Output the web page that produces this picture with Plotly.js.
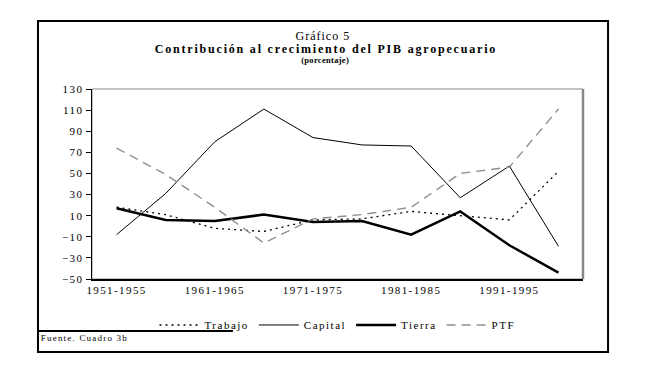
<!DOCTYPE html>
<html>
<head>
<meta charset="utf-8">
<script src="https://cdn.plot.ly/plotly-3.0.1.min.js"></script>
<style>
html,body{margin:0;padding:0;background:#fff;}
#chart{width:645px;height:371px;}
.xtick text, .ytick text { letter-spacing: 1.4px; }
.legendtext { letter-spacing: 1.5px; }
g.annotation[data-index="0"] text { letter-spacing: 1px; }
g.annotation[data-index="1"] text { letter-spacing: 1.8px; }
g.annotation[data-index="2"] text { letter-spacing: 0.3px; }
g.annotation[data-index="3"] text { letter-spacing: 1.2px; }
</style>
</head>
<body>
<div id="chart"></div>
<script>
const categories = ["1951-1955","1956-1960","1961-1965","1966-1970","1971-1975","1976-1980","1981-1985","1986-1990","1991-1995","1996-2000"];
const trabajo = [18, 11, -2, -5, 6, 7, 14, 10, 6, 52];
const capital = [-8, 31, 80, 111, 84, 77, 76, 27, 57, -19];
const tierra  = [17, 6, 5, 11, 4, 5, -8, 14, -18, -44];
const ptf     = [74, 49, 18, -16, 7, 11, 18, 50, 56, 111];
const yTicks = [-50, -30, -10, 10, 30, 50, 70, 90, 110, 130];
const labeledCats = categories.filter((c, i) => i % 2 === 0);

const serif = "Liberation Serif, Times New Roman, serif";

const traces = [
  {x: categories, y: trabajo, name: "Trabajo", mode: "lines",
   line: {color: "#000", width: 1.3, dash: "2px,4px"}},
  {x: categories, y: capital, name: "Capital", mode: "lines",
   line: {color: "#000", width: 1}},
  {x: categories, y: tierra, name: "Tierra", mode: "lines",
   line: {color: "#000", width: 2.5}},
  {x: categories, y: ptf, name: "PTF", mode: "lines",
   line: {color: "#909090", width: 1.4, dash: "9px,6px"}}
];

const layout = {
  width: 645, height: 371,
  margin: {l: 92, r: 62, t: 89, b: 92},
  paper_bgcolor: "#fff", plot_bgcolor: "#fff",
  showlegend: true,
  legend: {orientation: "h", x: 0.5, xanchor: "center", y: -0.242, yanchor: "middle",
           bgcolor: "rgba(0,0,0,0)", borderwidth: 0,
           font: {family: serif, size: 11, color: "#000"}, itemwidth: 40, tracegroupgap: 0},
  xaxis: {type: "category", range: [-0.5, 9.5], tickmode: "array", tickvals: labeledCats, ticktext: labeledCats,
          ticks: "", showgrid: false, zeroline: false, showline: true, linecolor: "#000", linewidth: 1.5,
          tickfont: {family: serif, size: 11, color: "#000"}, fixedrange: true},
  xaxis2: {overlaying: "x", anchor: "y", range: [-0.5, 9.5], tickmode: "linear", tick0: -0.5, dtick: 2,
           ticks: "inside", ticklen: 4, tickcolor: "#000", tickwidth: 1, showticklabels: false,
           showgrid: false, zeroline: false, showline: false},
  yaxis: {range: [-50, 130], tickmode: "array", tickvals: yTicks, ticks: "outside", ticklen: 5,
          tickcolor: "#000", tickwidth: 1, showgrid: false, zeroline: false, showline: true,
          linecolor: "#000", linewidth: 1.5, tickfont: {family: serif, size: 11, color: "#000"}, fixedrange: true},
  shapes: [
    {type: "rect", xref: "paper", yref: "paper", x0: 0, x1: 1, y0: 0, y1: 1,
     line: {color: "#888", width: 1}, layer: "below"},
    {type: "line", xref: "paper", yref: "paper", x0: 1, x1: 1, y0: 0, y1: 1,
     line: {color: "#888", width: 2.5}, layer: "below"},
    {type: "rect", xref: "paper", yref: "paper", x0: -0.110, x1: 1.051, y0: -0.384, y1: 1.358,
     line: {color: "#000", width: 2}, layer: "below"},
    {type: "line", xref: "paper", yref: "paper", x0: -0.110, x1: 0.287, y0: -0.274, y1: -0.274,
     line: {color: "#000", width: 2}, layer: "below"}
  ],
  annotations: [
    {text: "Gráfico 5", xref: "paper", yref: "paper", x: 0.47, y: 1.28, showarrow: false, borderpad: 0,
     xanchor: "center", yanchor: "middle", font: {family: serif, size: 12, color: "#000"}},
    {text: "<b>Contribución al crecimiento del PIB agropecuario</b>", xref: "paper", yref: "paper", x: 0.477, y: 1.212,
     showarrow: false, borderpad: 0, xanchor: "center", yanchor: "middle", font: {family: serif, size: 12, color: "#000"}},
    {text: "<b>(porcentaje)</b>", xref: "paper", yref: "paper", x: 0.475, y: 1.154, showarrow: false, borderpad: 0,
     xanchor: "center", yanchor: "middle", font: {family: serif, size: 8.5, color: "#000"}},
    {text: "Fuente. Cuadro 3b", xref: "paper", yref: "paper", x: -0.0153, y: -0.31, showarrow: false,
     xanchor: "center", yanchor: "middle", font: {family: serif, size: 9, color: "#000"}}
  ]
};

Plotly.newPlot("chart", traces, layout, {displayModeBar: false, staticPlot: true});
</script>
</body>
</html>
